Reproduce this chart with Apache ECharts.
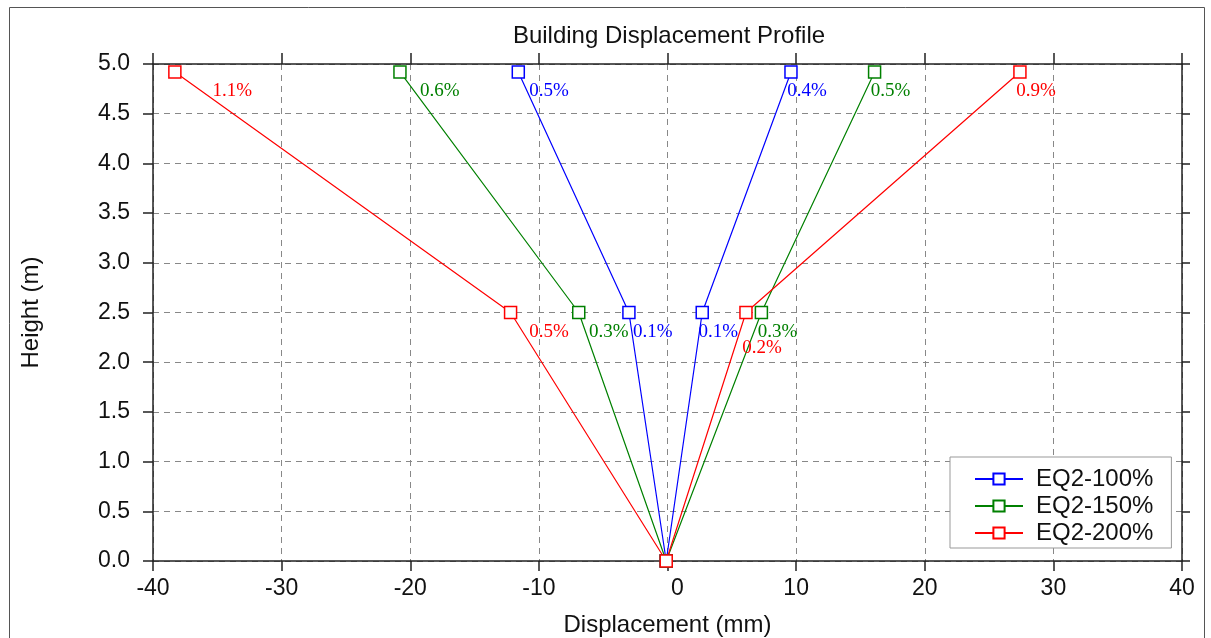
<!DOCTYPE html>
<html lang="en">
<head>
    <meta charset="UTF-8">
    <title>Building Displacement Profile</title>
    <style>
        html, body { margin: 0; padding: 0; background: #fff; }
    </style>
</head>
<body>
    <div id="main" style="width:1211px;height:638px;"></div>
    <script src="https://cdn.jsdelivr.net/npm/echarts@6/dist/echarts.min.js"></script>
    <script>
        var myChart = echarts.init(document.getElementById('main'));

        // 楼层高度 (m)
        var heights = [4.92, 2.5, 0, 2.5, 4.92];
        // 位移 (mm)
        var eq100 = [-11.6, -3.0, -0.1, 2.7, 9.6];
        var eq150 = [-20.8, -6.9, -0.1, 7.3, 16.1];
        var eq200 = [-38.3, -12.2, -0.1, 6.1, 27.4];
        // 层间位移角标签
        var drift100 = ['0.5%', '0.1%', '', '0.1%', '0.4%'];
        var drift150 = ['0.6%', '0.3%', '', '0.3%', '0.5%'];
        var drift200 = ['1.1%', '0.5%', '', '0.2%', '0.9%'];

        var seriesNames = ['EQ2-100%', 'EQ2-150%', 'EQ2-200%'];
        var colors = ['#0000ff', '#008000', '#ff0000'];
        var xs = [eq100, eq150, eq200];
        var drifts = [drift100, drift150, drift200];

        var font = 'Liberation Sans, Arial, sans-serif';

        var series = [];
        for (var s = 0; s < xs.length; s++) {
            var data = [];
            for (var i = 0; i < heights.length; i++) {
                var x = xs[s][i];
                // 左侧标签往右挪，和前面系列标签挨得太近就往下挪
                var dx = x < 0 ? Math.min(40, Math.abs(x) * (heights[i] > 3 ? 1 : 1.6)) : -3;
                var dy = 0;
                for (var k = 0; k < s; k++) {
                    if (drifts[k][i] && Math.abs(xs[k][i] - x) < 2.5) dy = 16;
                }
                data.push({
                    value: [x, heights[i]],
                    drift: drifts[s][i],
                    label: {
                        position: [6 + dx, 26 + dy]
                    }
                });
            }
            series.push({
                name: seriesNames[s],
                type: 'line',
                xAxisIndex: 0,
                yAxisIndex: 0,
                data: data,
                symbol: 'rect',
                symbolSize: 12,
                showAllSymbol: true,
                itemStyle: {
                    color: '#fff',
                    borderColor: colors[s],
                    borderWidth: 1.5
                },
                lineStyle: {
                    color: colors[s],
                    width: 1.2
                },
                label: {
                    show: true,
                    position: [6, 26],
                    align: 'left',
                    verticalAlign: 'middle',
                    fontFamily: 'Liberation Serif, Times New Roman, serif',
                    fontSize: 19,
                    color: colors[s],
                    formatter: function (p) {
                        return p.data.drift;
                    }
                },
                emphasis: { disabled: true },
                animation: false,
                z: 3
            });
        }

        var axisLineStyle = { color: '#222', width: 1.5 };
        var dashed = {
            show: true,
            lineStyle: { color: '#888', type: [6, 5], width: 1 }
        };

        var option = {
            backgroundColor: '#fff',
            title: {
                text: 'Building Displacement Profile',
                left: 664,
                top: 19,
                textAlign: 'center',
                textStyle: {
                    fontFamily: font,
                    fontSize: 24,
                    fontWeight: 'normal',
                    color: '#111'
                }
            },
            legend: {
                left: 950,
                top: 457,
                orient: 'vertical',
                data: seriesNames,
                itemWidth: 48,
                itemHeight: 14,
                itemGap: 3,
                padding: [10, 18, 3, 24],
                backgroundColor: '#fff',
                borderColor: '#999',
                borderWidth: 1,
                borderRadius: 0,
                textStyle: {
                    fontFamily: font,
                    fontSize: 24,
                    color: '#111',
                    padding: [0, 0, 0, 8]
                }
            },
            grid: {
                left: 153,
                right: 29,
                top: 64,
                bottom: 77,
                outerBoundsMode: 'none'
            },
            xAxis: [{
                type: 'value',
                position: 'bottom',
                min: -40,
                max: 40,
                interval: 10,
                name: 'Displacement (mm)',
                nameLocation: 'middle',
                nameGap: 52,
                nameTextStyle: { fontFamily: font, fontSize: 24, color: '#111' },
                axisLine: { show: true, onZero: false, lineStyle: axisLineStyle },
                axisTick: { show: true, inside: false, length: 10, lineStyle: axisLineStyle },
                axisLabel: {
                    fontFamily: font,
                    fontSize: 23,
                    color: '#111',
                    margin: 16,
                    formatter: function (v) { return v === 0 ? '{z|0}' : v; },
                    rich: {
                        z: { fontFamily: font, fontSize: 23, color: '#111', padding: [0, 0, 0, 20] }
                    }
                },
                splitLine: dashed
            }, {
                type: 'value',
                position: 'top',
                min: -40,
                max: 40,
                interval: 10,
                axisLine: { show: true, onZero: false, lineStyle: axisLineStyle },
                axisTick: { show: true, inside: false, length: 11, lineStyle: axisLineStyle },
                axisLabel: { show: false },
                splitLine: { show: false }
            }],
            yAxis: [{
                type: 'value',
                position: 'left',
                min: 0,
                max: 5,
                interval: 0.5,
                name: 'Height (m)',
                nameLocation: 'middle',
                nameGap: 110,
                nameRotate: 90,
                nameTextStyle: { fontFamily: font, fontSize: 24, color: '#111' },
                axisLine: { show: true, onZero: false, lineStyle: axisLineStyle },
                axisTick: { show: true, inside: false, length: 10, lineStyle: axisLineStyle },
                axisLabel: {
                    fontFamily: font,
                    fontSize: 23,
                    color: '#111',
                    margin: 23,
                    formatter: function (v) { return v.toFixed(1); }
                },
                splitLine: dashed
            }, {
                type: 'value',
                position: 'right',
                min: 0,
                max: 5,
                interval: 0.5,
                axisLine: { show: true, onZero: false, lineStyle: axisLineStyle },
                axisTick: { show: true, inside: false, length: 8, lineStyle: axisLineStyle },
                axisLabel: { show: false },
                splitLine: { show: false }
            }],
            graphic: [{
                type: 'rect',
                shape: { x: 9.5, y: 7.5, width: 1195, height: 640 },
                style: { fill: null, stroke: '#555', lineWidth: 1 },
                silent: true,
                z: -1
            }],
            series: series
        };
        myChart.setOption(option);
    </script>
</body>
</html>
